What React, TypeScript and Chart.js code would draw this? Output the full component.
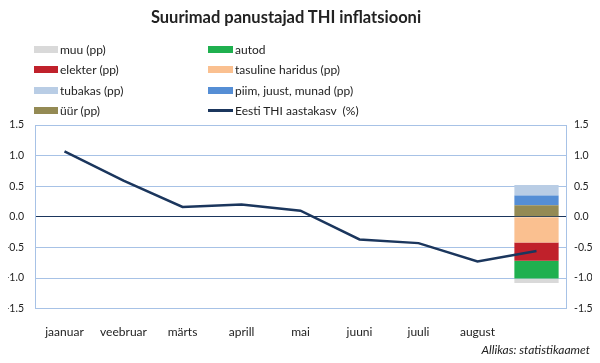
import React, { useEffect, useRef } from "react";
import { Chart, registerables } from "chart.js";

Chart.register(...registerables);

const categories = ["jaanuar", "veebruar", "märts", "aprill", "mai", "juuni", "juuli", "august", ""];
const inflation = [1.07, 0.59, 0.16, 0.2, 0.1, -0.37, -0.43, -0.73, -0.56];

// contributions (pp), only in the last column
const uur = 0.19;
const piim = 0.16;
const tubakas = 0.17;
const tasuline = -0.42;
const elekter = -0.3;
const autod = -0.29;
const muu = -0.07;

const yTicks = [-1.5, -1.0, -0.5, 0.0, 0.5, 1.0, 1.5];

const FONT = "Lato, 'Open Sans', sans-serif";

const lastOnly = (v: number) => categories.map((_, i) => (i === categories.length - 1 ? v : null));

const barSets = [
  { label: "üür (pp)", value: uur, color: "#948A54" },
  { label: "piim, juust, munad (pp)", value: piim, color: "#558ED5" },
  { label: "tubakas (pp)", value: tubakas, color: "#B9CDE5" },
  { label: "tasuline haridus (pp)", value: tasuline, color: "#FAC090" },
  { label: "elekter (pp)", value: elekter, color: "#C0212B" },
  { label: "autod", value: autod, color: "#1FB04F" },
  { label: "muu (pp)", value: muu, color: "#D9D9D9" },
];
const lineLabel = "Eesti THI aastakasv  (%)";
const lineColor = "#1B365D";

const legendOrder = [
  "muu (pp)", "autod",
  "elekter (pp)", "tasuline haridus (pp)",
  "tubakas (pp)", "piim, juust, munad (pp)",
  "üür (pp)", lineLabel,
];

export default function App() {
  const ref = useRef<HTMLCanvasElement | null>(null);
  useEffect(() => {
    if (!ref.current) return;
    const chart = new Chart(ref.current, {
      type: "bar",
      data: {
        labels: categories,
        datasets: [
          {
            type: "line",
            label: lineLabel,
            data: inflation,
            borderColor: lineColor,
            backgroundColor: lineColor,
            borderWidth: 2.5,
            pointRadius: 0,
            tension: 0,
            order: 0,
            yAxisID: "y",
          } as any,
          ...barSets.map((b) => ({
            type: "bar",
            label: b.label,
            data: lastOnly(b.value),
            backgroundColor: b.color,
            borderWidth: 0,
            barPercentage: 0.75,
            categoryPercentage: 1,
            order: 1,
            stack: "s",
            yAxisID: "y",
          })),
        ],
      },
      options: {
        animation: false,
        responsive: false,
        maintainAspectRatio: false,
        layout: { padding: { top: 125, left: 0, right: 0, bottom: 16 } },
        plugins: { legend: { display: false }, tooltip: { enabled: false }, title: { display: false } },
        scales: {
          x: {
            stacked: true,
            grid: { display: false },
            border: { display: false },
            ticks: { color: "#222", font: { family: FONT, size: 12 }, padding: 8, maxRotation: 0 },
          },
          y: {
            stacked: true,
            min: -1.5,
            max: 1.5,
            afterBuildTicks: (axis: any) => { axis.ticks = yTicks.map((v) => ({ value: v })); },
            afterFit: (axis: any) => { axis.width = 35; },
            ticks: { color: "#222", font: { family: FONT, size: 10.5 }, padding: 11, callback: (v: any) => Number(v).toFixed(1) },
            grid: {
              drawTicks: false,
              color: (ctx: any) => (ctx.tick && ctx.tick.value === 0 ? lineColor : "#A7C2E6"),
              lineWidth: 1,
            },
            border: { display: true, color: "#A7C2E6" },
          },
          y2: {
            position: "right",
            min: -1.5,
            max: 1.5,
            afterBuildTicks: (axis: any) => { axis.ticks = yTicks.map((v) => ({ value: v })); },
            afterFit: (axis: any) => { axis.width = 34; },
            ticks: { color: "#222", font: { family: FONT, size: 10.5 }, padding: 8, callback: (v: any) => Number(v).toFixed(1) },
            grid: { display: false, drawTicks: false },
            border: { display: true, color: "#A7C2E6" },
          },
        },
      } as any,
    });
    return () => chart.destroy();
  }, []);

  const colorOf = (l: string) => (l === lineLabel ? lineColor : barSets.find((b) => b.label === l)!.color);

  return (
    <div style={{ position: "relative", width: 600, height: 363, margin: "-8px", background: "#fff", fontFamily: FONT }}>
      <canvas ref={ref} width={600} height={363} style={{ position: "absolute", left: 0, top: 0 }} />
      <div style={{ position: "absolute", left: 0, width: 572, top: 7, textAlign: "center", fontWeight: 700, fontSize: 16.5, color: "#222" }}>
        Suurimad panustajad THI inflatsiooni
      </div>
      {legendOrder.map((l, i) => {
        const col = i % 2;
        const row = Math.floor(i / 2);
        const x = col === 0 ? 34 : 208;
        const y = 49 + row * 20.5;
        const isLine = l === lineLabel;
        return (
          <div key={l} style={{ position: "absolute", left: x, top: y - 8, height: 16, display: "flex", alignItems: "center", fontSize: 12, color: "#222", whiteSpace: "pre" }}>
            <span style={{ display: "inline-block", width: col === 0 ? 24 : 25, height: isLine ? 3 : 7, background: colorOf(l), marginRight: 2 }} />
            {l}
          </div>
        );
      })}
      <div style={{ position: "absolute", right: 10, top: 342, fontStyle: "italic", fontSize: 12, color: "#222" }}>
        Allikas: statistikaamet
      </div>
    </div>
  );
}
